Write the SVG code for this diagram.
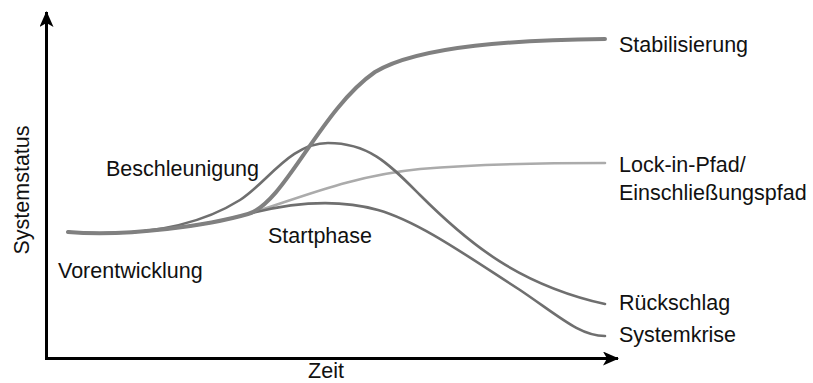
<svg xmlns="http://www.w3.org/2000/svg" width="813" height="383" viewBox="0 0 813 383">
<defs>
<marker id="arr" viewBox="0 0 16 14" refX="15" refY="7" markerWidth="16" markerHeight="14" markerUnits="userSpaceOnUse" orient="auto">
<path d="M0,0 L16,7 L0,14 L4,7 Z" fill="#000"/>
</marker>
</defs>
<style>
text{font-family:"Liberation Sans",Arial,Helvetica,sans-serif;font-size:21.5px;fill:#111}
.c{fill:none;stroke-linecap:round}
.thick{stroke:#808080;stroke-width:4}
.mid{stroke:#6f6f6f;stroke-width:2.6}
.light{stroke:#ababab;stroke-width:2.6}
.axis{stroke:#000;stroke-width:3;fill:none}
</style>
<rect width="813" height="383" fill="#fff"/>
<g id="axes">
<line class="axis" x1="46.5" y1="358.5" x2="46.5" y2="12" marker-end="url(#arr)"/>
<line class="axis" x1="45" y1="358.5" x2="618" y2="358.5" marker-end="url(#arr)"/>
</g>
<g id="connectors">
<path id="lockin" class="c light" d="M68,232 C130,237 210,225 248,214 C300,198 350,176 420,169 C480,164 540,163 605,163"/>
<path id="startphase" class="c mid" d="M68,232 C130,237 210,225 248,214 C290,203 335,198 378,210 C420,222 470,258 520,290 C560,317 580,336 605,336"/>
<path id="beschleunigung" class="c mid" d="M68,232 C150,238 205,222 240,200 C268,182 290,143 328,143 C370,143 390,165 420,195 C470,245 520,285 605,304"/>
<path id="stabil" class="c thick" d="M68,232 C130,237 210,225 248,214 C285,203 320,110 375,72 C420,45 520,40 605,39"/>
</g>
<g id="labels">
<text id="t-stab" x="619" y="52">Stabilisierung</text>
<text id="t-lock" x="619" y="172">Lock-in-Pfad/</text>
<text id="t-ein" x="619" y="200">Einschließungspfad</text>
<text id="t-rueck" x="619" y="310">Rückschlag</text>
<text id="t-krise" x="619" y="342">Systemkrise</text>
<text id="t-besch" x="106" y="176">Beschleunigung</text>
<text id="t-start" x="268" y="243">Startphase</text>
<text id="t-vor" x="58" y="278">Vorentwicklung</text>
<text id="t-zeit" x="326" y="378" text-anchor="middle">Zeit</text>
<text id="t-sys" transform="translate(29,190) rotate(-90)" text-anchor="middle">Systemstatus</text>
</g>
</svg>
